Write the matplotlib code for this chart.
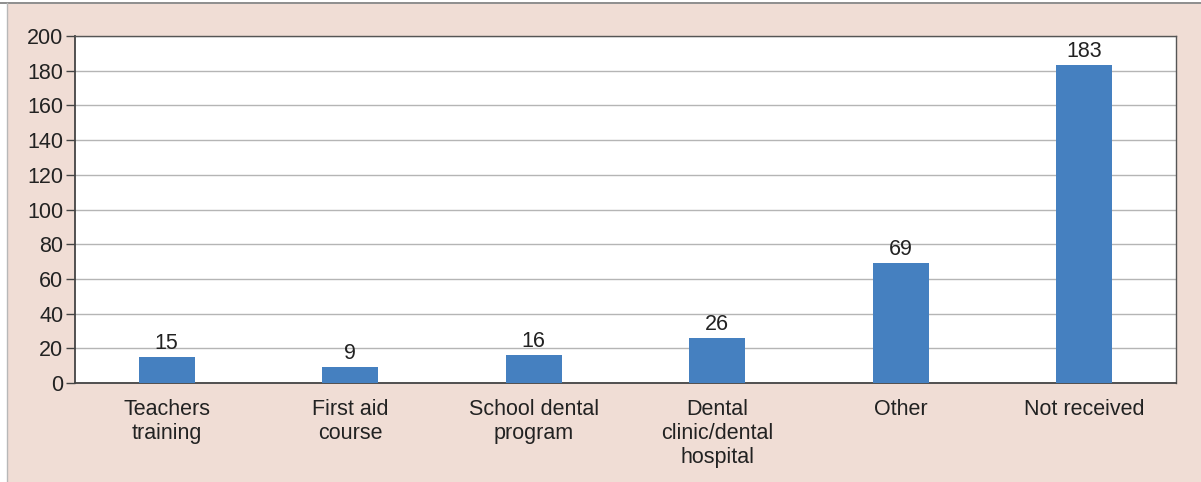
import matplotlib
matplotlib.use("Agg")
import matplotlib.pyplot as plt
from matplotlib.patches import Rectangle
from matplotlib.lines import Line2D

categories = ["Teachers\ntraining", "First aid\ncourse", "School dental\nprogram",
              "Dental\nclinic/dental\nhospital", "Other", "Not received"]
values = [15, 9, 16, 26, 69, 183]
yticks = [0, 20, 40, 60, 80, 100, 120, 140, 160, 180, 200]

plt.rcParams['font.family'] = ['Liberation Sans', 'DejaVu Sans']

W, H = 1201, 482
fig = plt.figure(figsize=(W/100, H/100), dpi=100)
fig.patch.set_facecolor('white')

# pink background panel
fig.patches.append(Rectangle((7/W, 0), 1 - 7/W, 1 - 4/H, transform=fig.transFigure,
                             facecolor='#f0ddd5', edgecolor='none', zorder=-10))
fig.lines.append(Line2D([0, 1], [1 - 3/H, 1 - 3/H], transform=fig.transFigure,
                        color='#7a7a7a', lw=1.2, zorder=-5))
fig.lines.append(Line2D([6.5/W, 6.5/W], [0, 1 - 3/H], transform=fig.transFigure,
                        color='#b8b8b8', lw=1.0, zorder=-5))

left, right, top, bottom = 75, 1176, 36, 383
ax = fig.add_axes([left/W, 1 - bottom/H, (right-left)/W, (bottom-top)/H])
ax.set_facecolor('white')

fs = 15.5
x = list(range(len(categories)))
ax.bar(x, values, width=0.305, color='#4580c0', zorder=3)
for xi, v in zip(x, values):
    ax.text(xi, v + 1.8, str(v), ha='center', va='bottom', fontsize=fs, color='#222222', zorder=4)

ax.set_xlim(-0.5, len(categories) - 0.5)
ax.set_ylim(0, 200)
ax.set_yticks(yticks)
ax.set_yticklabels([str(t) for t in yticks])
ax.set_xticks(x)
ax.set_xticklabels(categories, linespacing=1.2)
ax.tick_params(axis='y', length=6.5, width=1, color='#444444', labelsize=fs, labelcolor='#222222', pad=2)
ax.tick_params(axis='x', length=0, labelsize=fs, labelcolor='#222222', pad=11.5)
ax.yaxis.grid(True, color='#b5b5b5', lw=1.0, zorder=1)
ax.set_axisbelow(True)
for s in ['left', 'bottom']:
    ax.spines[s].set_color('#444444')
    ax.spines[s].set_linewidth(1.3)
for s in ['top', 'right']:
    ax.spines[s].set_color('#555555')
    ax.spines[s].set_linewidth(1.0)

fig.savefig('out.png', dpi=100)
